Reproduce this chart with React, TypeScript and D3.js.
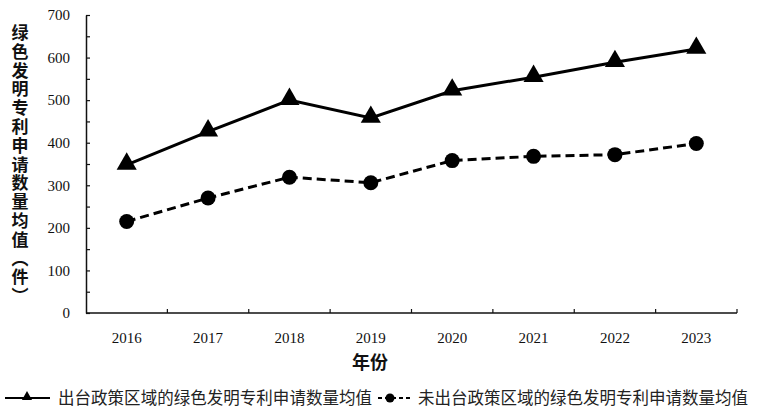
import React, { useRef, useEffect } from 'react';
import * as d3 from 'd3';

const years = ['2016', '2017', '2018', '2019', '2020', '2021', '2022', '2023'];
const policyValues = [348, 426, 500, 458, 522, 554, 589, 620];
const nonPolicyValues = [215, 270, 319, 306, 358, 368, 372, 398];

const policyLabel = '出台政策区域的绿色发明专利申请数量均值';
const nonPolicyLabel = '未出台政策区域的绿色发明专利申请数量均值';
const yTitle = '绿色发明专利申请数量均值（件）';
const xTitle = '年份';

const serif = '"Liberation Serif", "Times New Roman", serif';
const cjk = '"Noto Sans CJK SC", sans-serif';

export default function App() {
  const svgRef = useRef<SVGSVGElement>(null);

  useEffect(() => {
    if (!svgRef.current) return;
    const svg = d3.select(svgRef.current);
    svg.selectAll('*').remove();

    const left = 86, right = 737, top = 15, bottom = 313;

    const x = d3.scaleBand<string>().domain(years).range([left, right]).padding(0);
    const y = d3.scaleLinear().domain([0, 700]).range([bottom, top]);
    const cx = (d: string) => (x(d) as number) + x.bandwidth() / 2;

    // y axis with minor ticks every 50
    const yAxis = d3.axisLeft(y)
      .tickValues(d3.range(0, 701, 50))
      .tickSizeInner(-4)
      .tickSizeOuter(0)
      .tickPadding(16)
      .tickFormat(d => (+d % 100 === 0 ? String(d) : ''));
    const gy = svg.append('g').attr('transform', `translate(${left},0)`).call(yAxis);
    gy.select('.domain').attr('stroke', '#111').attr('stroke-width', 1.5);
    gy.selectAll('.tick line').attr('stroke', '#111').attr('stroke-width', 1.2);
    gy.selectAll('.tick text')
      .attr('font-family', serif)
      .attr('font-size', 15)
      .attr('fill', '#111');

    // x axis: line + ticks at category boundaries
    svg.append('line')
      .attr('x1', left).attr('x2', right)
      .attr('y1', bottom).attr('y2', bottom)
      .attr('stroke', '#111').attr('stroke-width', 1.5);
    const bounds = years.map(d => x(d) as number).slice(1).concat([right]);
    svg.append('g').selectAll('line').data(bounds).join('line')
      .attr('x1', d => d).attr('x2', d => d)
      .attr('y1', bottom).attr('y2', bottom - 4)
      .attr('stroke', '#111').attr('stroke-width', 1.2);
    svg.append('g').selectAll('text').data(years).join('text')
      .attr('x', d => cx(d))
      .attr('y', 343)
      .attr('text-anchor', 'middle')
      .attr('font-family', serif)
      .attr('font-size', 15)
      .attr('fill', '#111')
      .text(d => d);

    // titles
    svg.append('text')
      .attr('x', 370).attr('y', 369)
      .attr('text-anchor', 'middle')
      .attr('font-family', cjk)
      .attr('font-weight', 'bold')
      .attr('font-size', 18)
      .attr('fill', '#111')
      .text(xTitle);

    svg.append('text')
      .attr('x', 20).attr('y', 24)
      .style('writing-mode', 'vertical-rl')
      .attr('font-family', cjk)
      .attr('font-weight', 'bold')
      .attr('font-size', 17)
      .attr('letter-spacing', 1.8)
      .attr('fill', '#111')
      .text(yTitle);

    // lines
    const line = d3.line<number>()
      .x((_, i) => cx(years[i]))
      .y(d => y(d));

    svg.append('path')
      .datum(policyValues)
      .attr('fill', 'none')
      .attr('stroke', '#000')
      .attr('stroke-width', 3)
      .attr('d', line);

    svg.append('path')
      .datum(nonPolicyValues)
      .attr('fill', 'none')
      .attr('stroke', '#000')
      .attr('stroke-width', 3)
      .attr('stroke-dasharray', '9,5')
      .attr('d', line);

    const tri = d3.symbol().type(d3.symbolTriangle).size(175);
    svg.append('g').selectAll('path').data(policyValues).join('path')
      .attr('transform', (d, i) => `translate(${cx(years[i])},${y(d) - 1})`)
      .attr('d', tri())
      .attr('fill', '#000');

    svg.append('g').selectAll('circle').data(nonPolicyValues).join('circle')
      .attr('cx', (_, i) => cx(years[i]))
      .attr('cy', d => y(d))
      .attr('r', 7.5)
      .attr('fill', '#000');

    // legend
    const ly = 398;
    const lg = svg.append('g');
    lg.append('line')
      .attr('x1', 5).attr('x2', 50).attr('y1', ly).attr('y2', ly)
      .attr('stroke', '#000').attr('stroke-width', 2);
    lg.append('path')
      .attr('transform', `translate(27,${ly - 1})`)
      .attr('d', d3.symbol().type(d3.symbolTriangle).size(45)())
      .attr('fill', '#000');
    lg.append('text')
      .attr('x', 58).attr('y', ly + 6)
      .attr('font-family', cjk)
      .attr('font-size', 16.5)
      .attr('textLength', 314)
      .attr('lengthAdjust', 'spacing')
      .attr('fill', '#222')
      .text(policyLabel);

    lg.append('line')
      .attr('x1', 378).attr('x2', 412).attr('y1', ly).attr('y2', ly)
      .attr('stroke', '#000').attr('stroke-width', 2)
      .attr('stroke-dasharray', '4,3');
    lg.append('circle')
      .attr('cx', 390).attr('cy', ly).attr('r', 4.5)
      .attr('fill', '#000');
    lg.append('text')
      .attr('x', 418).attr('y', ly + 6)
      .attr('font-family', cjk)
      .attr('font-size', 16.5)
      .attr('textLength', 330)
      .attr('lengthAdjust', 'spacing')
      .attr('fill', '#222')
      .text(nonPolicyLabel);
  }, []);

  return (
    <svg
      ref={svgRef}
      width={759}
      height={409}
      style={{ position: 'absolute', left: 0, top: 0, background: '#fff' }}
    />
  );
}
